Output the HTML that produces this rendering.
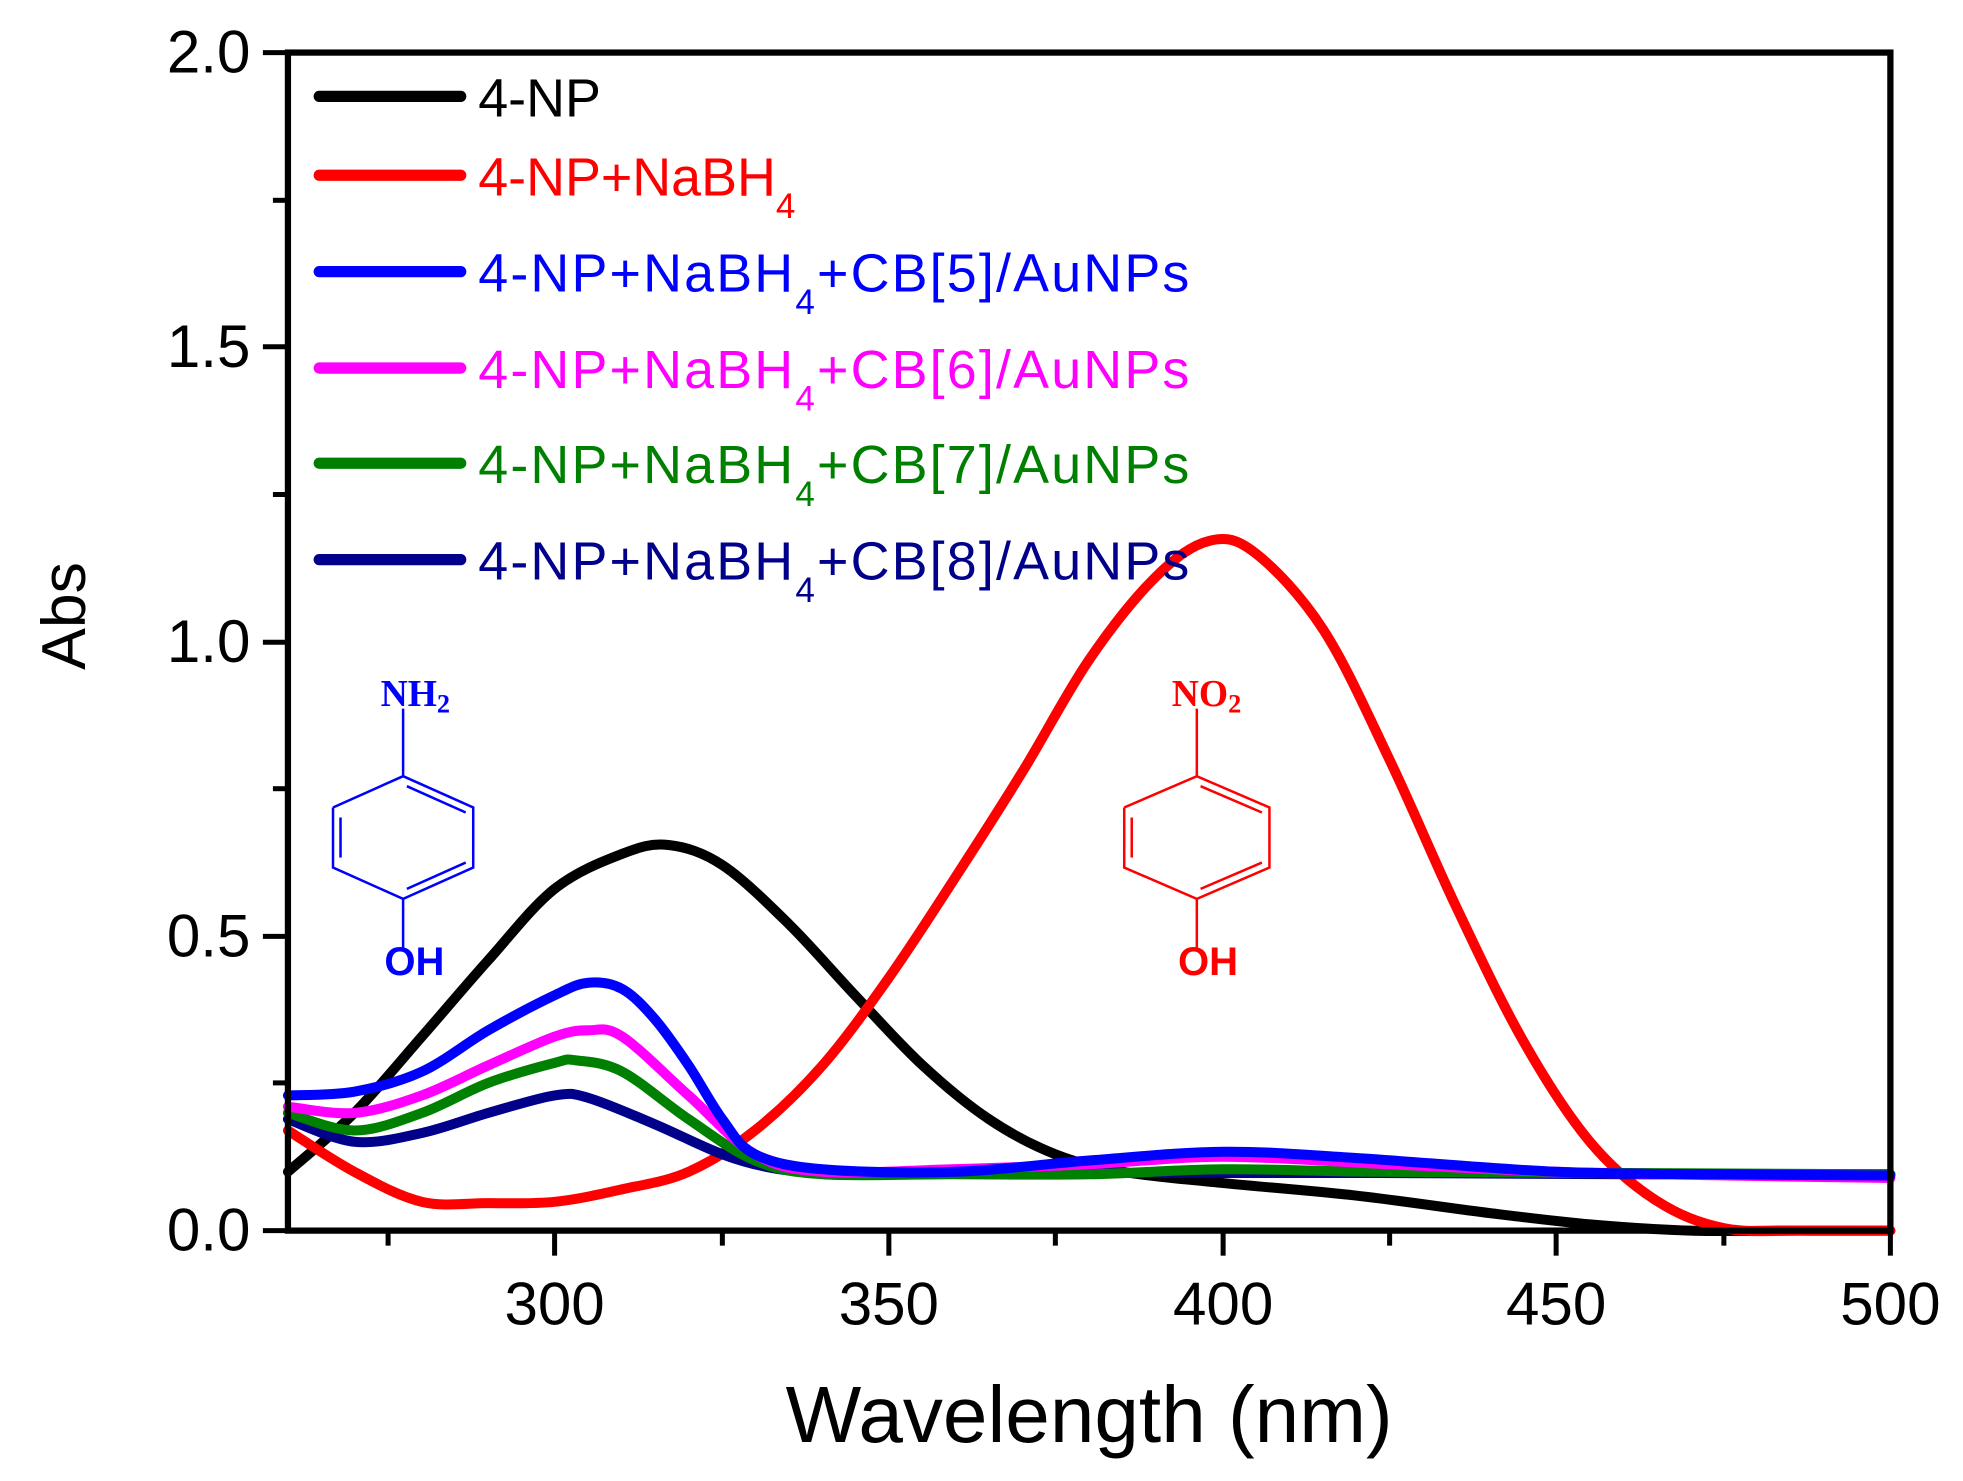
<!DOCTYPE html>
<html><head><style>html,body{margin:0;padding:0;background:#fff}svg{display:block}</style></head>
<body>
<svg id="s" width="1963" height="1481" viewBox="0 0 1568 1183" preserveAspectRatio="none" xmlns="http://www.w3.org/2000/svg" font-family="Liberation Sans, sans-serif">
<rect width="1568" height="1183" fill="#fff"/>
<g id="curves" fill="none" stroke-width="8" stroke-linejoin="round" stroke-linecap="round">
<polyline stroke="#000" points="230,936 283,889 337,828 390,767 443,710 497,682 534,675 577,691 630,738 683,795 737,851 790,894 843,922 897,936 977,945 1083,955 1190,969 1270,978 1350,983 1430,983 1510,983"/>
<polyline stroke="#ff0000" points="230,903 283,936 337,960 390,961 443,960 497,950 550,936 603,903 657,851 710,781 763,701 817,616 870,527 923,461 966,432 1003,442 1057,503 1110,607 1163,724 1217,832 1270,912 1323,959 1377,981 1440,983 1510,983"/>
<polyline stroke="#00008b" points="230,894 283,912 337,905 390,889 443,875 470,877 523,898 577,922 617,933 657,936 760,937 900,937 1100,937 1300,938 1510,938"/>
<polyline stroke="#008000" points="230,889 283,903 337,889 390,865 443,849 460,847 497,856 550,894 603,927 657,938 760,938 870,938 977,934 1100,936 1300,937 1510,938"/>
<polyline stroke="#ff00ff" points="230,884 283,889 337,875 390,851 443,828 470,823 497,828 550,875 603,922 657,936 760,934 870,930 977,924 1110,930 1243,936 1380,939 1510,941"/>
<polyline stroke="#0000ff" points="230,875 283,872 337,856 390,823 443,795 470,785 497,790 523,814 550,851 577,894 603,922 657,934 763,936 870,927 977,920 1083,925 1243,936 1380,938 1510,939"/>
</g>
<rect x="230" y="42" width="1280" height="941" fill="none" stroke="#000" stroke-width="5"/>
<g stroke="#000" stroke-width="4">
<line x1="210" y1="983" x2="230" y2="983"/><line x1="210" y1="748" x2="230" y2="748"/><line x1="210" y1="513" x2="230" y2="513"/><line x1="210" y1="277" x2="230" y2="277"/><line x1="210" y1="42" x2="230" y2="42"/>
<line x1="218" y1="865" x2="230" y2="865"/><line x1="218" y1="630" x2="230" y2="630"/><line x1="218" y1="395" x2="230" y2="395"/><line x1="218" y1="160" x2="230" y2="160"/>
<line x1="443" y1="983" x2="443" y2="1003"/><line x1="710" y1="983" x2="710" y2="1003"/><line x1="977" y1="983" x2="977" y2="1003"/><line x1="1243" y1="983" x2="1243" y2="1003"/><line x1="1510" y1="983" x2="1510" y2="1003"/>
<line x1="310" y1="983" x2="310" y2="995"/><line x1="577" y1="983" x2="577" y2="995"/><line x1="843" y1="983" x2="843" y2="995"/><line x1="1110" y1="983" x2="1110" y2="995"/><line x1="1377" y1="983" x2="1377" y2="995"/>
</g>
<g font-size="48" text-anchor="end" fill="#000">
<text x="200" y="999">0.0</text><text x="200" y="764">0.5</text><text x="200" y="529">1.0</text><text x="200" y="293">1.5</text><text x="200" y="58">2.0</text>
</g>
<g font-size="48" text-anchor="middle" fill="#000">
<text x="443" y="1058">300</text><text x="710" y="1058">350</text><text x="977" y="1058">400</text><text x="1243" y="1058">450</text><text x="1510" y="1058">500</text>
</g>
<text x="870" y="1152" font-size="64" text-anchor="middle">Wavelength (nm)</text>
<text transform="translate(68,492) rotate(-90)" font-size="50" text-anchor="middle">Abs</text>
<g stroke-width="9" stroke-linecap="round">
<line x1="255" y1="77" x2="368" y2="77" stroke="#000"/>
<line x1="255" y1="140" x2="368" y2="140" stroke="#ff0000"/>
<line x1="255" y1="217" x2="368" y2="217" stroke="#0000ff"/>
<line x1="255" y1="294" x2="368" y2="294" stroke="#ff00ff"/>
<line x1="255" y1="370" x2="368" y2="370" stroke="#008000"/>
<line x1="255" y1="447" x2="368" y2="447" stroke="#00008b"/>
</g>
<g font-size="43">
<text x="382" y="93" fill="#000">4-NP</text>
<text x="382" y="156" fill="#ff0000">4-NP+NaBH<tspan font-size="28" dy="18">4</tspan></text>
<text x="382" y="233" fill="#0000ff" textLength="568">4-NP+NaBH<tspan font-size="28" dy="18">4</tspan><tspan dy="-18">+CB[5]/AuNPs</tspan></text>
<text x="382" y="310" fill="#ff00ff" textLength="568">4-NP+NaBH<tspan font-size="28" dy="18">4</tspan><tspan dy="-18">+CB[6]/AuNPs</tspan></text>
<text x="382" y="386" fill="#008000" textLength="568">4-NP+NaBH<tspan font-size="28" dy="18">4</tspan><tspan dy="-18">+CB[7]/AuNPs</tspan></text>
<text x="382" y="463" fill="#00008b" textLength="568">4-NP+NaBH<tspan font-size="28" dy="18">4</tspan><tspan dy="-18">+CB[8]/AuNPs</tspan></text>
</g>
<g fill="none" stroke="#0000ff" stroke-width="2">
<polyline points="266,645 322,620 378,645 378,693 322,718 266,693 266,645"/>
<line x1="322" y1="620" x2="322" y2="566"/><line x1="322" y1="718" x2="322" y2="758"/>
<line x1="272" y1="653" x2="272" y2="685"/><line x1="325" y1="628" x2="372" y2="649"/><line x1="325" y1="710" x2="372" y2="689"/>
</g>
<text x="304" y="564" font-family="Liberation Serif, serif" font-weight="bold" font-size="30" fill="#0000ff">NH<tspan font-size="21" dy="5">2</tspan></text>
<text x="307" y="779" font-weight="bold" font-size="32" fill="#0000ff">OH</text>
<g fill="none" stroke="#ff0000" stroke-width="2">
<polyline points="898,645 956,620 1014,645 1014,693 956,718 898,693 898,645"/>
<line x1="956" y1="620" x2="956" y2="566"/><line x1="956" y1="718" x2="956" y2="758"/>
<line x1="904" y1="653" x2="904" y2="685"/><line x1="959" y1="628" x2="1008" y2="649"/><line x1="959" y1="710" x2="1008" y2="689"/>
</g>
<text x="936" y="564" font-family="Liberation Serif, serif" font-weight="bold" font-size="30" fill="#ff0000">NO<tspan font-size="21" dy="5">2</tspan></text>
<text x="941" y="779" font-weight="bold" font-size="32" fill="#ff0000">OH</text>
</svg>
<script>
(function(){
var NS="http://www.w3.org/2000/svg";
document.querySelectorAll('#curves polyline').forEach(function(pl){
 var p=pl.getAttribute('points').trim().split(/\s+/).map(function(s){return s.split(',').map(Number);});
 var d='M'+p[0][0]+','+p[0][1];
 for(var i=0;i<p.length-1;i++){
  var p0=p[i-1]||p[i],p1=p[i],p2=p[i+1],p3=p[i+2]||p2;
  var c1x=p1[0]+(p2[0]-p0[0])/6,c1y=p1[1]+(p2[1]-p0[1])/6;
  var c2x=p2[0]-(p3[0]-p1[0])/6,c2y=p2[1]-(p3[1]-p1[1])/6;
  d+=' C'+c1x+','+c1y+' '+c2x+','+c2y+' '+p2[0]+','+p2[1];
 }
 var path=document.createElementNS(NS,'path');
 path.setAttribute('d',d);path.setAttribute('stroke',pl.getAttribute('stroke'));
 pl.parentNode.replaceChild(path,pl);
});
})();
</script>
</body></html>
